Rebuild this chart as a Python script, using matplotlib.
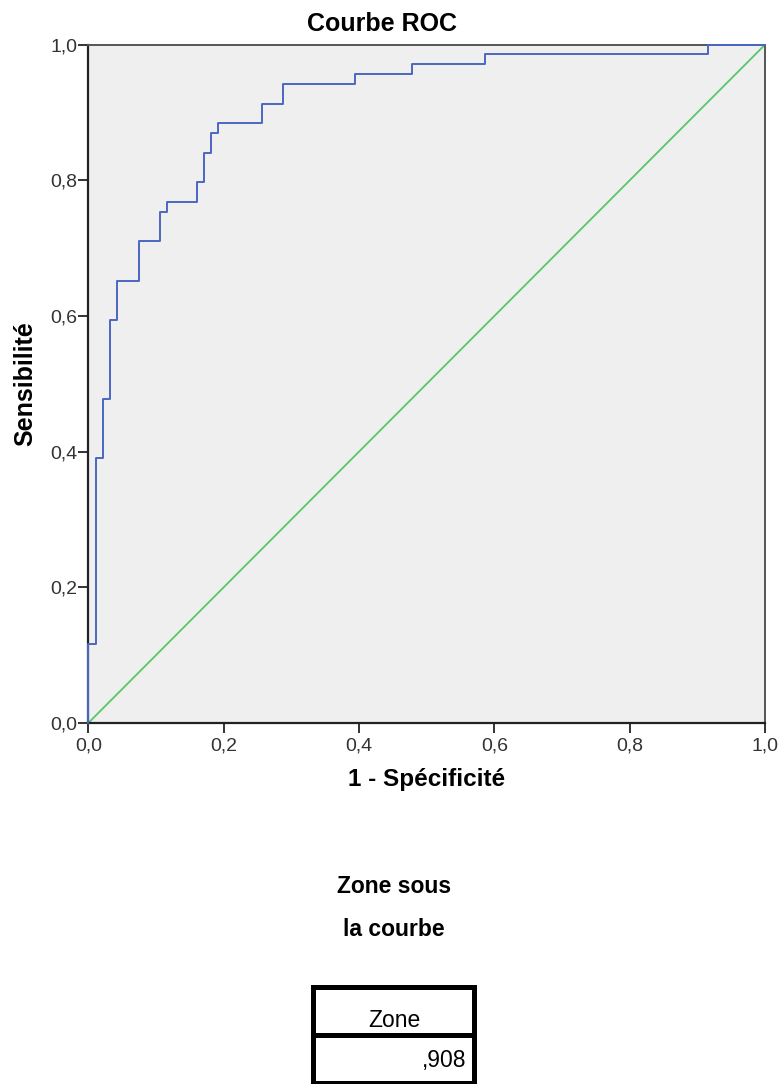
import matplotlib
matplotlib.use("Agg")

import matplotlib.pyplot as plt
from matplotlib.patches import Rectangle

plt.rcParams['font.family'] = ['Liberation Sans', 'DejaVu Sans']

# ROC corner points (1 - specificity, sensitivity)
fpr = [0.0, 0.0, 0.011, 0.021, 0.032, 0.043, 0.075, 0.106, 0.117, 0.160,
       0.171, 0.182, 0.192, 0.256, 0.287, 0.394, 0.479, 0.586, 0.916, 1.0]
tpr = [0.0, 0.116, 0.391, 0.478, 0.594, 0.652, 0.710, 0.754, 0.768, 0.797,
       0.841, 0.870, 0.884, 0.913, 0.942, 0.957, 0.971, 0.986, 1.0, 1.0]

ref_x = [0.0, 1.0]
ref_y = [0.0, 1.0]

ticks = [0.0, 0.2, 0.4, 0.6, 0.8, 1.0]
tick_labels = ['0,0', '0,2', '0,4', '0,6', '0,8', '1,0']

auc_label = 'Zone'
auc_value = ',908'

W, H = 780, 1084
fig = plt.figure(figsize=(W / 100, H / 100), dpi=100)

# overlay in pixel coords for title, table, etc.
ov = fig.add_axes([0, 0, 1, 1])
ov.set_xlim(0, W)
ov.set_ylim(H, 0)
ov.axis('off')

ax = fig.add_axes([88.3 / W, (H - 723) / H, (765 - 88.3) / W, (723 - 44.7) / H])
ax.set_facecolor('#efefef')

ax.plot(ref_x, ref_y, color='#55c86a', lw=1.3, zorder=2)
ax.step(fpr, tpr, where='post', color='#4a67c2', lw=1.4, zorder=3, clip_on=False)

ax.set_xlim(0, 1)
ax.set_ylim(0, 1)
ax.set_xticks(ticks)
ax.set_yticks(ticks)
ax.set_xticklabels(tick_labels)
ax.set_yticklabels(tick_labels)
ax.tick_params(direction='out', length=7.5, width=1.4, color='#333333',
               labelsize=14, labelcolor='#333333')
ax.tick_params(axis='x', pad=3)
ax.tick_params(axis='y', pad=0.5)

for side in ['left', 'bottom']:
    ax.spines[side].set_color('#222222')
    ax.spines[side].set_linewidth(1.6)
for side in ['top', 'right']:
    ax.spines[side].set_color('#555555')
    ax.spines[side].set_linewidth(1.4)

ax.set_xlabel('1 - Spécificité', fontsize=17.5, fontweight='bold', labelpad=10)
ax.set_ylabel('Sensibilité', fontsize=18, fontweight='bold', labelpad=9)

ov.text(382, 30.7, 'Courbe ROC', fontsize=18, fontweight='bold',
        ha='center', va='baseline')

ov.text(394, 893.3, 'Zone sous', fontsize=16.5, fontweight='bold',
        ha='center', va='baseline')
ov.text(394, 936, 'la courbe', fontsize=16.5, fontweight='bold',
        ha='center', va='baseline')

# area table
ov.add_patch(Rectangle((312.5, 987), 474.2 - 312.5, 1082.5 - 987,
                       fill=False, lw=3.6, ec='black'))
ov.plot([312.5, 474.2], [1034.7, 1034.7], color='black', lw=3.6)
ov.text(394, 1027.3, auc_label, fontsize=16.5, ha='center', va='baseline')
ov.text(466.7, 1066.7, auc_value, fontsize=16.5, ha='right', va='baseline')

fig.savefig('out.png', dpi=100)
